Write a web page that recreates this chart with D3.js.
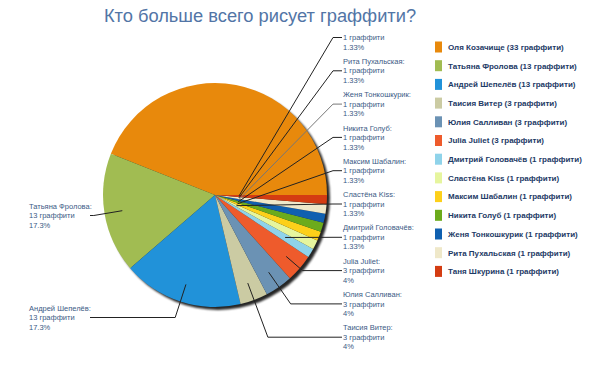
<!DOCTYPE html>
<html><head><meta charset="utf-8">
<script src="https://cdn.jsdelivr.net/npm/d3@7/dist/d3.min.js"></script>
<style>body{margin:0;background:#fff}svg{display:block}</style>
</head><body>
<script>
const names = ["Оля Козачище","Татьяна Фролова","Андрей Шепелёв","Таисия Витер","Юлия Салливан","Julia Juliet","Дмитрий Головачёв","Сластёна Kiss","Максим Шабалин","Никита Голуб","Женя Тонкошкурик","Рита Пухальская","Таня Шкурина"];
const counts = [33,13,13,3,3,3,1,1,1,1,1,1,1];
const colors = ["#e8890c","#a1bc52","#2192d9","#cbcba3","#6b92b4","#ee5b2c","#8fd3ea","#e6f59e","#fdd01a","#6cab1c","#1060b0","#efe8c9","#d43c12"];
const title = "Кто больше всего рисует граффити?";
const unit = "граффити";

const W = 604, H = 377;
const svg = d3.select("body").append("svg").attr("width", W).attr("height", H);
const cx = 215, cy = 195, R = 112;

svg.append("text").attr("x", 260).attr("y", 22).attr("text-anchor", "middle")
  .attr("font-family", "Liberation Sans, Arial, sans-serif").attr("font-size", 18.3)
  .attr("fill", "#5275a6").text(title);

const defs = svg.append("defs");
defs.append("filter").attr("id", "sh").attr("x", "-10%").attr("y", "-10%").attr("width", "130%").attr("height", "130%")
  .append("feGaussianBlur").attr("stdDeviation", 1.3);

const total = d3.sum(counts);
const data = names.map((n, i) => ({ name: n, value: counts[i], color: colors[i], i }));
const pie = d3.pie().value(d => d.value).sort(null)
  .startAngle(Math.PI / 2).endAngle(Math.PI / 2 - 2 * Math.PI);
const arcs = pie(data);
const arc = d3.arc().innerRadius(0).outerRadius(R);

const g = svg.append("g").attr("transform", `translate(${cx},${cy})`);
g.append("circle").attr("cx", 3).attr("cy", 3).attr("r", R).attr("fill", "#000")
  .attr("opacity", 0.85).attr("filter", "url(#sh)");
g.selectAll("path.s").data(arcs).join("path").attr("class", "s")
  .attr("d", arc).attr("fill", d => d.data.color);

// labels
const fmtPct = v => {
  const p = v / total * 100;
  return (Math.abs(p - Math.round(p)) < 1e-9 ? d3.format("d")(p) : d3.format(".3~r")(p)) + "%";
};
const lineH = 9.5;
const rightOrder = [12,11,10,9,8,7,6,5,4,3]; // top to bottom
const rightTop = 28, rightStep = 33.3;
const labelPos = {};
rightOrder.forEach((idx, k) => { labelPos[idx] = { side: 1, y: rightTop + k * rightStep }; });
labelPos[1] = { side: -1, y: 206 };
labelPos[2] = { side: -1, y: 308 };
const innerR = { 6: 82, 7: 24, 8: 24, 9: 24, 10: 24, 11: 24, 12: 24 };
const rightX = 343, rightElbow = 333, leftTextX = 29, leftEnd = 90;

const lab = svg.append("g");
arcs.forEach(a => {
  const i = a.data.i;
  const lp = labelPos[i];
  if (!lp) return;
  const mid = (a.startAngle + a.endAngle) / 2;
  const r = innerR[i] || 94;
  const ux = Math.sin(mid), uy = -Math.cos(mid);
  const px = cx + r * ux, py = cy + r * uy;
  const ly = lp.y + lineH;
  let ex, ey = ly;
  const t = Math.abs(uy) > 1e-6 ? (ly - py) / uy : -1;
  const candX = px + t * ux;
  if (lp.side === 1) {
    ex = (t >= 0 && candX <= rightElbow) ? candX : rightElbow;
  } else {
    ex = (t >= 0 && candX >= leftEnd) ? candX : leftEnd;
  }
  const endX = lp.side === 1 ? rightX - 1 : leftEnd;
  lab.append("polyline")
    .attr("points", [[px, py], [ex, ey], [endX, ly]].map(p => p.join(",")).join(" "))
    .attr("fill", "none").attr("stroke", i === 10 ? "#777" : "#222").attr("stroke-width", 1);
  const tx = lp.side === 1 ? rightX : leftTextX;
  const lines = [a.data.name + ":", a.data.value + " " + unit, fmtPct(a.data.value)];
  lines.forEach((s, j) => {
    if (i === 12 && j === 0) return; // name hidden under title area in reference
    lab.append("text").attr("x", tx).attr("y", lp.y + j * lineH).attr("dy", "0.35em")
      .attr("font-family", "Liberation Sans, Arial, sans-serif").attr("font-size", 7.5)
      .attr("fill", "#3b5a85").text(s);
  });
});

// legend
const leg = svg.append("g");
data.forEach((d, i) => {
  const y = 47 + i * 18.7;
  leg.append("rect").attr("x", 435).attr("y", y - 5.5).attr("width", 7).attr("height", 11).attr("fill", d.color);
  leg.append("text").attr("x", 448).attr("y", y).attr("dy", "0.35em")
    .attr("font-family", "Liberation Sans, Arial, sans-serif").attr("font-size", 8).attr("font-weight", "bold")
    .attr("fill", "#1d3a66").text(`${d.name} (${d.value} ${unit})`);
});
</script>
</body></html>
